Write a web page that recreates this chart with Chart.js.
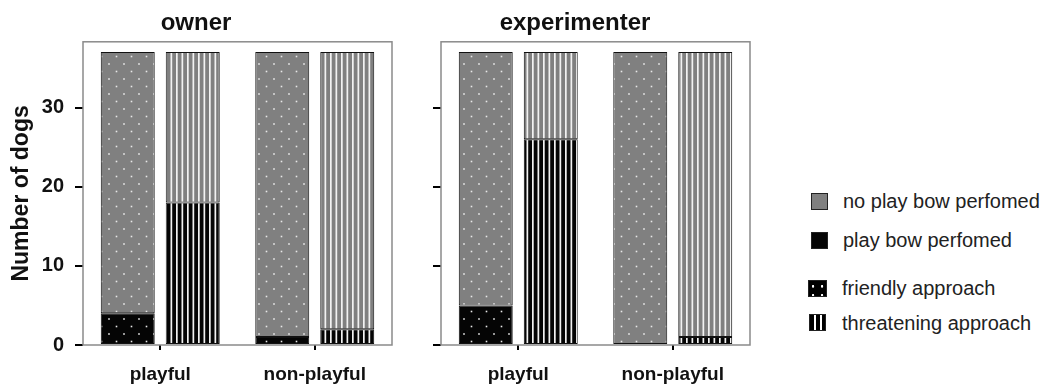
<!DOCTYPE html>
<html>
<head>
<meta charset="utf-8">
<title>Play bow by approach</title>
<script src="https://cdn.jsdelivr.net/npm/chart.js@4.4.1/dist/chart.umd.min.js"></script>
<style>
  body { margin: 0; background: #fff; width: 1049px; height: 385px; overflow: hidden; position: relative;
         font-family: "Liberation Sans", Arial, sans-serif; }
  .panel { position: absolute; top: 0; height: 385px; }
  #ownerWrap { left: 0; width: 415px; }
  #expWrap { left: 400px; width: 373px; }
  .sw { position: absolute; box-sizing: border-box; border: 1px solid #222; }
  .lab { position: absolute; font-size: 20px; color: #222; white-space: nowrap; line-height: 24px; }
</style>
</head>
<body>
<div class="panel" id="ownerWrap"><canvas id="graficoOwner"></canvas></div>
<div class="panel" id="expWrap"><canvas id="graficoExp"></canvas></div>
<div id="legend"></div>

<script>
// datos
const categorias = ["playful", "non-playful"];
const titulos = ["owner", "experimenter"];
const ejeY = "Number of dogs";

// owner: play bow / no play bow, friendly (dots) y threatening (stripes)
const ownerFriendlyBow = [4, 1];
const ownerFriendlyNoBow = [33, 36];
const ownerThreatBow = [18, 2];
const ownerThreatNoBow = [19, 35];

// experimenter
const expFriendlyBow = [5, 0];
const expFriendlyNoBow = [32, 37];
const expThreatBow = [26, 1];
const expThreatNoBow = [11, 36];

const yTicks = [0, 10, 20, 30];
const leyenda = ["no play bow perfomed", "play bow perfomed", "friendly approach", "threatening approach"];

const GRIS = "#808080";
const NEGRO = "#050505";
const FAMILIA = '"Liberation Sans", Arial, sans-serif';

Chart.defaults.font.family = FAMILIA;

// patrones de relleno
function patronPuntos(fondo) {
  const c = document.createElement("canvas");
  c.width = 15; c.height = 15;
  const g = c.getContext("2d");
  g.fillStyle = fondo;
  g.fillRect(0, 0, 15, 15);
  g.fillStyle = "#e8e8e8";
  g.fillRect(3.2, 3.2, 1.6, 1.6);
  g.fillRect(10.7, 10.7, 1.6, 1.6);
  return g.createPattern(c, "repeat");
}

function patronRayas(fondo) {
  const c = document.createElement("canvas");
  c.width = 11; c.height = 4;
  const g = c.getContext("2d");
  g.fillStyle = fondo;
  g.fillRect(0, 0, 11, 4);
  g.fillStyle = "#f2f2f2";
  g.fillRect(0, 0, 1.7, 4);
  g.fillRect(5.5, 0, 1.7, 4);
  return g.createPattern(c, "repeat");
}

// marco gris alrededor del area
const marco = {
  id: "marco",
  afterDraw(chart) {
    const { ctx, chartArea: a } = chart;
    ctx.save();
    ctx.strokeStyle = "#8a8a8a";
    ctx.lineWidth = 1.5;
    ctx.strokeRect(a.left, a.top, a.right - a.left, a.bottom - a.top);
    ctx.restore();
  },
};

function datasetsPanel(fBow, fNo, tBow, tNo) {
  return [
    { label: "friendly bow", data: fBow, stack: "friendly", backgroundColor: patronPuntos(NEGRO) },
    { label: "friendly no bow", data: fNo, stack: "friendly", backgroundColor: patronPuntos(GRIS) },
    { label: "threat bow", data: tBow, stack: "threat", backgroundColor: patronRayas(NEGRO) },
    { label: "threat no bow", data: tNo, stack: "threat", backgroundColor: patronRayas(GRIS) },
  ].map((d) =>
    Object.assign(d, {
      borderColor: "#111",
      borderWidth: 1,
      borderSkipped: false,
      categoryPercentage: 0.8414,
      barPercentage: 0.83,
    })
  );
}

function crearPanel(id, titulo, datasets, conEtiquetas, anchoY) {
  new Chart(document.getElementById(id), {
    type: "bar",
    data: { labels: categorias, datasets: datasets },
    plugins: [marco],
    options: {
      responsive: true,
      maintainAspectRatio: false,
      animation: false,
      layout: { padding: { left: 0, right: 23, top: 0, bottom: 0 } },
      plugins: {
        legend: { display: false },
        tooltip: { enabled: false },
        title: {
          display: true,
          text: titulo,
          color: "#111",
          font: { size: 24, weight: "bold" },
          padding: { top: 9, bottom: 4 },
        },
      },
      scales: {
        x: {
          stacked: true,
          offset: true,
          border: { display: false },
          grid: { offset: false, drawOnChartArea: false, tickLength: 5, color: "#000", lineWidth: 2 },
          ticks: { color: "#111", font: { size: 19, weight: "bold" }, padding: 13 },
          afterFit: (s) => { s.height = 40; },
        },
        y: {
          stacked: true,
          min: 0,
          max: 38.3,
          border: { display: false },
          grid: { drawOnChartArea: false, tickLength: 8, color: "#000", lineWidth: 2 },
          afterBuildTicks: (s) => { s.ticks = yTicks.map((v) => ({ value: v })); },
          ticks: {
            color: "#111",
            font: { size: 20, weight: "bold" },
            padding: 11,
            callback: (v) => (conEtiquetas ? String(v) : ""),
          },
          title: {
            display: conEtiquetas,
            text: ejeY,
            color: "#111",
            font: { size: 23, weight: "bold" },
            padding: { top: 8, bottom: 0 },
          },
          afterFit: (s) => { s.width = anchoY; },
        },
      },
    },
  });
}

crearPanel("graficoOwner", titulos[0],
  datasetsPanel(ownerFriendlyBow, ownerFriendlyNoBow, ownerThreatBow, ownerThreatNoBow), true, 83);
crearPanel("graficoExp", titulos[1],
  datasetsPanel(expFriendlyBow, expFriendlyNoBow, expThreatBow, expThreatNoBow), false, 41);

// leyenda a la derecha
const leyendaEstilos = [
  { fondo: GRIS, x: 811, y: 193, w: 17, h: 17 },
  { fondo: NEGRO, x: 811, y: 232, w: 17, h: 17 },
  { fondo: "radial-gradient(circle at 45% 60%, #fff 0 1px, transparent 1.5px) 0 0/9px 9px, #000", x: 808, y: 280, w: 19, h: 17 },
  { fondo: "repeating-linear-gradient(90deg, #000 0 4px, #fff 4px 6px)", x: 809, y: 314, w: 17, h: 17 },
];
const leyendaTextoY = [189, 228, 276, 311];
const cont = document.getElementById("legend");
leyenda.forEach((txt, i) => {
  const st = leyendaEstilos[i];
  const sw = document.createElement("div");
  sw.className = "sw";
  sw.style.cssText = `left:${st.x}px;top:${st.y}px;width:${st.w}px;height:${st.h}px;background:${st.fondo};`;
  cont.appendChild(sw);
  const lb = document.createElement("div");
  lb.className = "lab";
  lb.style.left = (i < 2 ? 843 : 842) + "px";
  lb.style.top = leyendaTextoY[i] + "px";
  lb.textContent = txt;
  cont.appendChild(lb);
});
</script>
</body>
</html>
